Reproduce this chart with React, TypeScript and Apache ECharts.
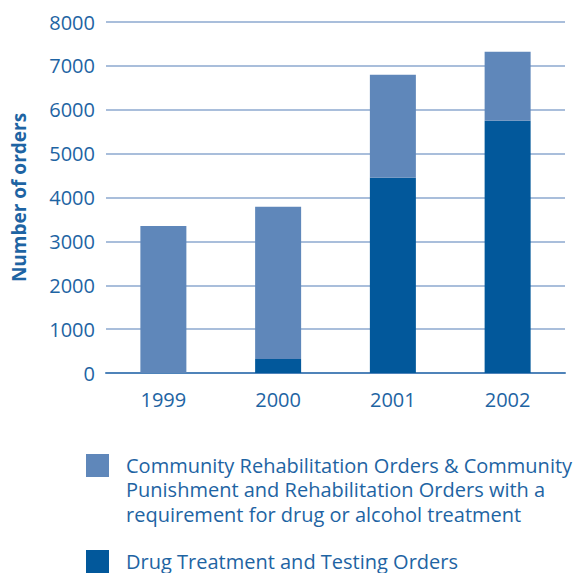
import React, { useEffect, useRef } from "react";
import * as echarts from "echarts";

const years = ["1999", "2000", "2001", "2002"];
const drugTreatment = [0, 320, 4450, 5750];
const communityOrders = [3350, 3470, 2350, 1570];
const yTicks = [0, 1000, 2000, 3000, 4000, 5000, 6000, 7000, 8000];
const legendLabels = [
  "Community Rehabilitation Orders & Community\nPunishment and Rehabilitation Orders with a\nrequirement for drug or alcohol treatment",
  "Drug Treatment and Testing Orders",
];

const LIGHT = "#5f87ba";
const DARK = "#02589b";
const TEXT = "#1e64a3";
const FONT = "'Open Sans', 'Noto Sans', sans-serif";

export default function App() {
  const ref = useRef<HTMLDivElement>(null);
  useEffect(() => {
    document.body.style.margin = "0";
    if (!ref.current) return;
    const chart = echarts.init(ref.current, undefined, { renderer: "svg" });
    chart.setOption({
      animation: false,
      textStyle: { fontFamily: FONT },
      grid: { left: 106, right: 18, top: 22, bottom: 200, containLabel: false },
      xAxis: {
        type: "category",
        data: years,
        axisTick: { show: false },
        axisLine: { lineStyle: { color: "#4f83b9", width: 2 } },
        axisLabel: { color: TEXT, fontSize: 20, fontFamily: FONT, margin: 16 },
      },
      yAxis: {
        type: "value",
        min: yTicks[0],
        max: yTicks[yTicks.length - 1],
        interval: 1000,
        name: "Number of orders",
        nameLocation: "middle",
        nameGap: 78,
        nameRotate: 90,
        nameTextStyle: { color: TEXT, fontSize: 19, fontWeight: "bold", fontFamily: FONT },
        axisLine: { show: false },
        axisTick: { show: false },
        axisLabel: {
          color: TEXT,
          fontSize: 20,
          fontFamily: FONT,
          margin: 11,
          formatter: (v: number) => String(v),
        },
        splitLine: { lineStyle: { color: "#a9bedb", width: 2 } },
      },
      series: [
        {
          name: legendLabels[1],
          type: "bar",
          stack: "total",
          data: drugTreatment,
          barWidth: 46,
          itemStyle: { color: DARK },
        },
        {
          name: legendLabels[0],
          type: "bar",
          stack: "total",
          data: communityOrders,
          barWidth: 46,
          itemStyle: { color: LIGHT },
        },
      ],
      graphic: [
        { type: "rect", left: 86, top: 454, shape: { width: 23, height: 23 }, style: { fill: LIGHT } },
        {
          type: "text",
          left: 126,
          top: 453,
          style: { text: legendLabels[0], fill: TEXT, fontSize: 20, lineHeight: 24.5, fontFamily: FONT },
        },
        { type: "rect", left: 86, top: 550, shape: { width: 23, height: 23 }, style: { fill: DARK } },
        {
          type: "text",
          left: 126,
          top: 550,
          style: { text: legendLabels[1], fill: TEXT, fontSize: 20, lineHeight: 22, fontFamily: FONT },
        },
      ],
    });
    return () => chart.dispose();
  }, []);
  return <div ref={ref} style={{ width: 583, height: 573 }} />;
}
